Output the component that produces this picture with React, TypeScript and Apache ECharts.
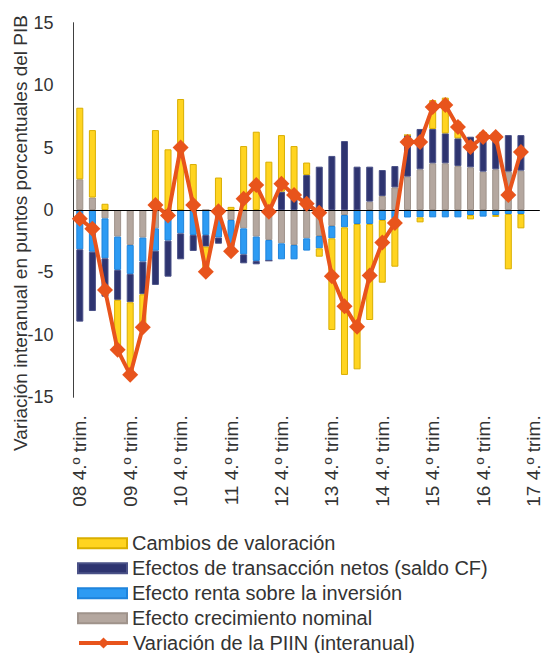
import React, { useEffect, useRef } from "react";
import * as echarts from "echarts";

const categories = [
  "08 4.º trim.", "09 1.º trim.", "09 2.º trim.", "09 3.º trim.",
  "09 4.º trim.", "10 1.º trim.", "10 2.º trim.", "10 3.º trim.",
  "10 4.º trim.", "11 1.º trim.", "11 2.º trim.", "11 3.º trim.",
  "11 4.º trim.", "12 1.º trim.", "12 2.º trim.", "12 3.º trim.",
  "12 4.º trim.", "13 1.º trim.", "13 2.º trim.", "13 3.º trim.",
  "13 4.º trim.", "14 1.º trim.", "14 2.º trim.", "14 3.º trim.",
  "14 4.º trim.", "15 1.º trim.", "15 2.º trim.", "15 3.º trim.",
  "15 4.º trim.", "16 1.º trim.", "16 2.º trim.", "16 3.º trim.",
  "16 4.º trim.", "17 1.º trim.", "17 2.º trim.", "17 3.º trim.",
  "17 4.º trim.",
];

const crecimientoNominal = [
  2.46, 1.0, -0.67, -2.13, -2.8, -2.21, -1.47, 0, 0, 0, 0, 0,
  -0.8, -1.47, -2.13, -2.4, -2.67, -2.8, -2.27, -2.08, -1.28, -0.4, 0, 0.67,
  1.12, 1.81, 2.67, 3.26, 3.74, 3.74, 3.52, 3.42, 3.07, 3.26, 3.07, 3.15, null,
];

const rentaInversion = [
  -3.15, -3.34, -3.2, -2.67, -2.32, -1.92, -1.79, -2.45, -1.87, -2.0, -2.0, -2.2,
  -2.1, -2.08, -1.95, -1.66, -1.28, -1.15, -0.98, -0.99, -0.99, -0.99, -1.12, -1.12,
  -0.8, -0.7, -0.6, -0.59, -0.59, -0.59, -0.59, -0.4, -0.53, -0.4, -0.32, -0.32, null,
];

const transaccionNetos = [
  -5.79, -4.75, -3.07, -2.4, -2.27, -2.62, -2.74, -2.89, -2.08, -1.28, -0.93, -0.5,
  -0.4, -0.72, -0.27, 0, 1.47, 1.0, 2.8, 3.47, 4.33, 5.52, 3.47, 2.8,
  2.08, 1.71, 3.33, 3.23, 2.75, 2.4, 2.22, 2.45, 3.13, 2.94, 2.93, 2.85, null,
];

const cambiosValoracion = [
  5.73, 5.4, 0.5, -4.0, -5.8, -2.65, 6.4, 4.86, 8.89, 3.68, -2.0, 2.6,
  0.25, 5.12, 6.27, 3.87, 4.53, 4.12, 1.0, -0.67, -7.34, -11.82, -11.64, -7.69,
  -5.02, -3.84, 0, -0.4, 2.31, 2.86, 1.36, -0.35, 0, -0.15, -4.43, -1.15, null,
];

const variacionPIIN = [
  -0.7, -1.5, -6.4, -11.2, -13.2, -9.4, 0.4, -0.45, 5.0, 0.4, -4.94, -0.1,
  -3.3, 0.9, 2.0, -0.15, 2.1, 1.2, 0.5, -0.22, -5.3, -7.7, -9.35, -5.25,
  -2.6, -1.05, 5.45, 5.45, 8.25, 8.4, 6.65, 5.05, 5.85, 5.85, 1.2, 4.65, null,
];

const yTicks = { min: -15, max: 15, interval: 5 };

const NAMES = {
  val: "Cambios de valoración",
  tr: "Efectos de transacción netos (saldo CF)",
  renta: "Efecto renta sobre la inversión",
  crec: "Efecto crecimiento nominal",
  line: "Variación de la PIIN (interanual)",
};

const FONT = "Liberation Sans, Arial, sans-serif";

export default function App() {
  const ref = useRef<HTMLDivElement>(null);
  useEffect(() => {
    if (!ref.current) return;
    const chart = echarts.init(ref.current, null, { renderer: "svg" });
    const barBase = {
      type: "bar" as const,
      stack: "total",
      barWidth: 7,
    };
    const legendBase = {
      orient: "vertical" as const,
      left: 77,
      padding: 0,
      itemWidth: 49,
      itemHeight: 10,
      itemGap: 5,
      selectedMode: false,
      textStyle: { fontSize: 20, color: "#333333", fontFamily: FONT },
    };
    chart.setOption({
      animation: false,
      backgroundColor: "#ffffff",
      textStyle: { fontFamily: FONT },
      grid: { left: 73.5, right: 1, top: 22.7, bottom: 255.7, containLabel: false },
      legend: [
        {
          ...legendBase,
          top: 533.3,
          data: [
            { name: NAMES.val, icon: "rect" },
            { name: NAMES.tr, icon: "rect" },
            { name: NAMES.renta, icon: "rect" },
            { name: NAMES.crec, icon: "rect" },
          ],
        },
        {
          ...legendBase,
          top: 633,
          itemHeight: 14,
          lineStyle: { width: 4 },
          data: [{ name: NAMES.line }],
        },
      ],
      graphic: [
        {
          type: "text",
          x: 20,
          y: 233,
          rotation: Math.PI / 2,
          style: {
            text: "Variación interanual en puntos porcentuales del PIB",
            fontSize: 19,
            fontFamily: FONT,
            fill: "#333333",
            textAlign: "center",
            textVerticalAlign: "middle",
          },
        },
      ],
      xAxis: {
        type: "category",
        data: categories,
        boundaryGap: true,
        axisLine: { show: false, onZero: false },
        axisTick: { show: false },
        axisLabel: {
          interval: 3,
          rotate: 90,
          margin: 18,
          fontSize: 19,
          color: "#333333",
          fontFamily: FONT,
        },
      },
      yAxis: {
        type: "value",
        min: yTicks.min,
        max: yTicks.max,
        interval: yTicks.interval,
        axisLine: { show: true, lineStyle: { color: "#404040", width: 1 } },
        axisTick: { show: false },
        splitLine: { show: false },
        axisLabel: { margin: 20, fontSize: 18, color: "#333333", fontFamily: FONT },
      },
      series: [
        {
          ...barBase,
          name: NAMES.crec,
          data: crecimientoNominal,
          itemStyle: { color: "#B4A79F", borderColor: "#9F938B", borderWidth: 1 },
        },
        {
          ...barBase,
          name: NAMES.renta,
          data: rentaInversion,
          itemStyle: { color: "#2D9BF3", borderColor: "#1F84DC", borderWidth: 1 },
        },
        {
          ...barBase,
          name: NAMES.tr,
          data: transaccionNetos,
          itemStyle: { color: "#2E3470", borderColor: "#4A5187", borderWidth: 1 },
        },
        {
          ...barBase,
          name: NAMES.val,
          data: cambiosValoracion,
          itemStyle: { color: "#FFD420", borderColor: "#D9AE00", borderWidth: 1 },
          markLine: {
            silent: true,
            symbol: "none",
            label: { show: false },
            lineStyle: { color: "#000000", width: 1, type: "solid" },
            data: [{ yAxis: 0 }],
          },
        },
        {
          type: "line",
          name: NAMES.line,
          data: variacionPIIN,
          z: 5,
          symbol: "diamond",
          symbolSize: 16,
          showAllSymbol: true,
          lineStyle: { color: "#E8541C", width: 4 },
          itemStyle: { color: "#E8541C" },
        },
      ],
    });
    return () => chart.dispose();
  }, []);
  return (
    <div
      ref={ref}
      style={{ position: "absolute", left: 0, top: 0, width: 543, height: 653 }}
    />
  );
}
